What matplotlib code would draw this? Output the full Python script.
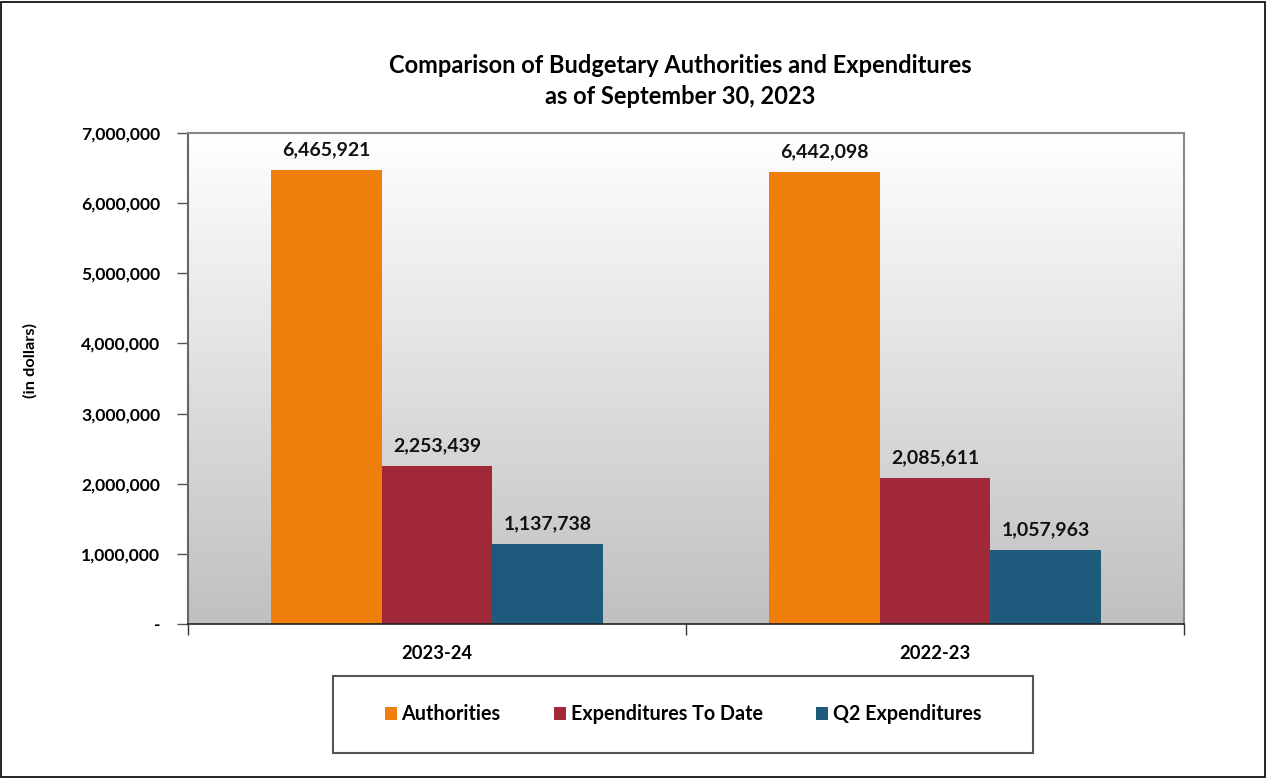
import matplotlib
matplotlib.use("Agg")
import matplotlib.pyplot as plt
import numpy as np
from matplotlib.patches import Rectangle
from matplotlib.colors import LinearSegmentedColormap

categories = ["2023-24", "2022-23"]
series_names = ["Authorities", "Expenditures To Date", "Q2 Expenditures"]
authorities = [6465921, 6442098]
exp_to_date = [2253439, 2085611]
q2_exp = [1137738, 1057963]
series_values = [authorities, exp_to_date, q2_exp]
colors = ["#EF7F0A", "#A12838", "#1E5A7C"]
yticks = [0, 1000000, 2000000, 3000000, 4000000, 5000000, 6000000, 7000000]

plt.rcParams['font.family'] = ['Lato', 'DejaVu Sans']
plt.rcParams['font.weight'] = 'bold'

fig = plt.figure(figsize=(12.68, 7.78), dpi=100)
fig.patches.append(Rectangle((0.001, 0.001), 0.997, 0.997, transform=fig.transFigure,
                             fill=False, edgecolor="#000000", linewidth=1.2))

ax = fig.add_axes([188/1268, 1-624/778, 996/1268, 491/778])

grad = np.linspace(0, 1, 256).reshape(-1, 1)
cmap = LinearSegmentedColormap.from_list("g", ["#FFFFFF", "#C0C0C0"])
ax.imshow(grad, extent=[-0.5, 1.5, 0, 7000000], origin='upper', aspect='auto', cmap=cmap, zorder=0)
ax.set_ylim(0, 7000000)
ax.set_xlim(-0.5, 1.5)

x = np.arange(len(categories))
w = 0.2225
for i, (name, vals) in enumerate(zip(series_names, series_values)):
    pos = x + (i - 1) * w
    bars = ax.bar(pos, vals, width=w, color=colors[i], label=name, zorder=2)
    for b, v in zip(bars, vals):
        ax.text(b.get_x() + b.get_width()/2, v + 170000, f"{v:,}", ha='center', va='bottom',
                fontsize=14, fontweight='bold', color='#111111')

ax.set_yticks(yticks)
ax.set_yticklabels(["-" if t == 0 else f"{t:,}" for t in yticks], fontsize=12.6, fontweight='bold')
ax.tick_params(axis='y', length=8, width=1, color='#555555', pad=12)
ax.set_xticks([-0.5, 0.5, 1.5], minor=False)
ax.set_xticklabels([])
ax.tick_params(axis='x', length=8, width=1, color='#333333')
for xi, c in zip(x, categories):
    ax.text(xi, -0.042, c, transform=ax.get_xaxis_transform(), ha='center', va='top',
            fontsize=13.2, fontweight='bold')

for s in ['top', 'right']:
    ax.spines[s].set_color('#888888')
    ax.spines[s].set_linewidth(1.5)
ax.spines['left'].set_color('#666666')
ax.spines['left'].set_linewidth(1.5)
ax.spines['bottom'].set_color('#222222')
ax.spines['bottom'].set_linewidth(1.2)

fig.text(30/1268, 1-360/778, "(in dollars)", rotation=90, ha='center', va='center',
         fontsize=11.8, fontweight='bold')
fig.text(680/1268, 1-81/778, "Comparison of Budgetary Authorities and Expenditures\nas of September 30, 2023",
         ha='center', va='center', fontsize=17, fontweight='bold', linespacing=1.4)

leg = fig.legend(loc='center', bbox_to_anchor=(333/1268, 1-753/778, 700/1268, 77/778),
                 ncol=3, frameon=False, fontsize=14.2, handlelength=0.6, handleheight=0.6,
                 columnspacing=2.7, handletextpad=0.25, borderaxespad=0, borderpad=0)
for t in leg.get_texts():
    t.set_fontweight('bold')

fig.patches.append(Rectangle((333/1268, 1-753/778), 700/1268, 77/778, transform=fig.transFigure,
                             fill=False, edgecolor='#555555', linewidth=1.5))

fig.savefig("out.png", dpi=100)
